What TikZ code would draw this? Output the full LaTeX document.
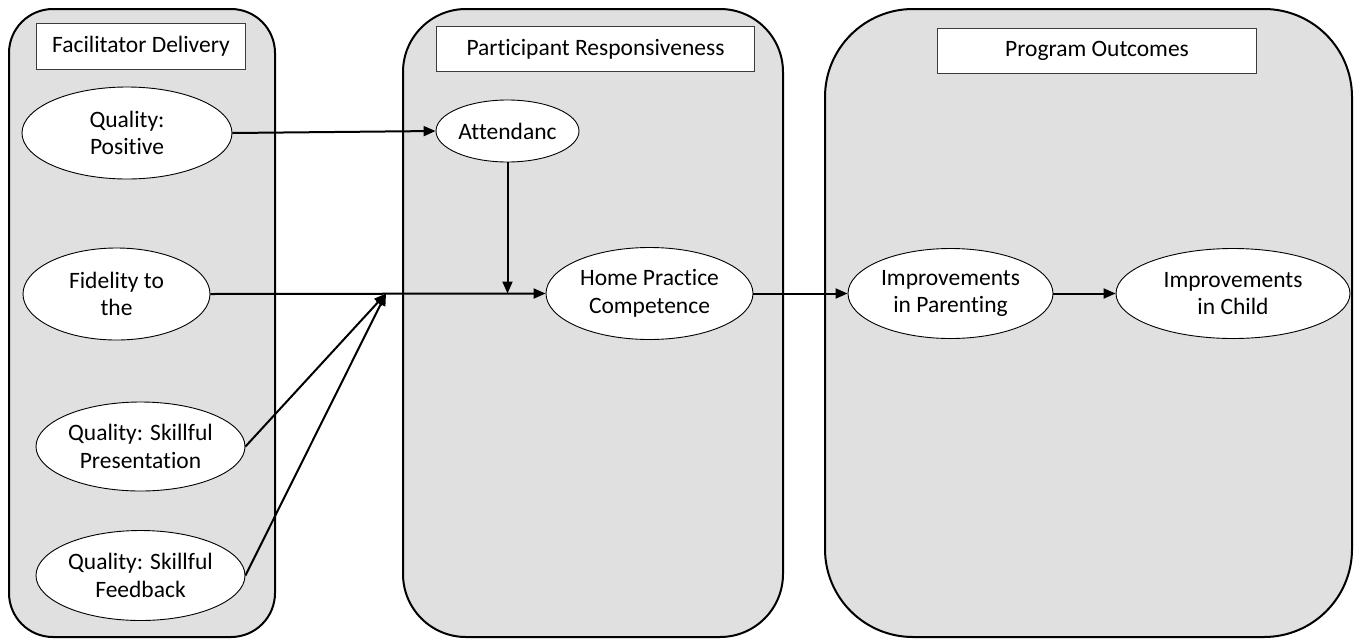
\documentclass[tikz,border=0pt]{standalone}
\usepackage{fontspec}
\setmainfont{Carlito}[Ligatures=NoCommon]
\usetikzlibrary{shapes.geometric,arrows.meta}
\definecolor{panelgray}{RGB}{224,224,224}
\definecolor{boxline}{RGB}{60,60,60}
\begin{document}
\begin{tikzpicture}[x=1pt,y=-1pt,
  panel/.style={draw=black,line width=2pt,fill=panelgray},
  titlebox/.style={draw=boxline,line width=1pt,fill=white,inner sep=0pt,anchor=north west},
  oval/.style={ellipse,draw=black,line width=0.9pt,fill=white,inner sep=0pt,align=center},
  conn/.style={line width=2pt,-{Triangle[length=12pt,width=10pt]}},
  every node/.style={font=\fontsize{23.5}{27.5}\selectfont}]
\useasboundingbox (0,0) rectangle (1359,643);
% panels
\draw[panel,rounded corners=44pt] (9,9) rectangle (275,637);
\draw[panel,rounded corners=63pt] (403,9) rectangle (783,637);
\draw[panel,rounded corners=88pt] (825,9) rectangle (1352,637);
% title boxes
\node[titlebox,minimum width=209pt,minimum height=46pt] (t1) at (36,23) {Facilitator Delivery};
\node[titlebox,minimum width=318pt,minimum height=45pt] (t2) at (436,26) {Participant Responsiveness};
\node[titlebox,minimum width=319pt,minimum height=45pt] (t3) at (937,28) {Program Outcomes};
% ovals
\node[oval,minimum width=210pt,minimum height=92pt] (pos) at (127,133) {Quality:\\Positive};
\node[oval,minimum width=187pt,minimum height=92pt] (fid) at (116.5,294) {Fidelity to\\the};
\node[oval,minimum width=209pt,minimum height=89pt] (pres) at (140.5,446.5) {Quality: Skillful\\Presentation};
\node[oval,minimum width=209pt,minimum height=90pt] (feed) at (140.5,575.5) {Quality: Skillful\\Feedback};
\node[oval,minimum width=143pt,minimum height=62pt] (att) at (507.5,131) {Attendanc};
\node[oval,minimum width=207pt,minimum height=92pt] (hpc) at (649.5,293.5) {Home Practice\\Competence};
\node[oval,minimum width=205pt,minimum height=90pt] (par) at (950.5,293.5) {Improvements\\in Parenting};
\node[oval,minimum width=234pt,minimum height=90pt] (chi) at (1233,293.5) {Improvements\\in Child};
% junctions
\coordinate (j1) at (507.5,293.5);
\coordinate (j2) at (386,293.5);
% connectors
\draw[conn] (pos.east) -- (att.west);
\draw[conn] (att.south) -- (j1);
\draw[conn] (fid.east) -- (hpc.west);
\draw[conn] (pres.east) -- (j2);
\draw[conn] (feed.east) -- (j2);
\draw[conn] (hpc.east) -- (par.west);
\draw[conn] (par.east) -- (chi.west);
\end{tikzpicture}
\end{document}
